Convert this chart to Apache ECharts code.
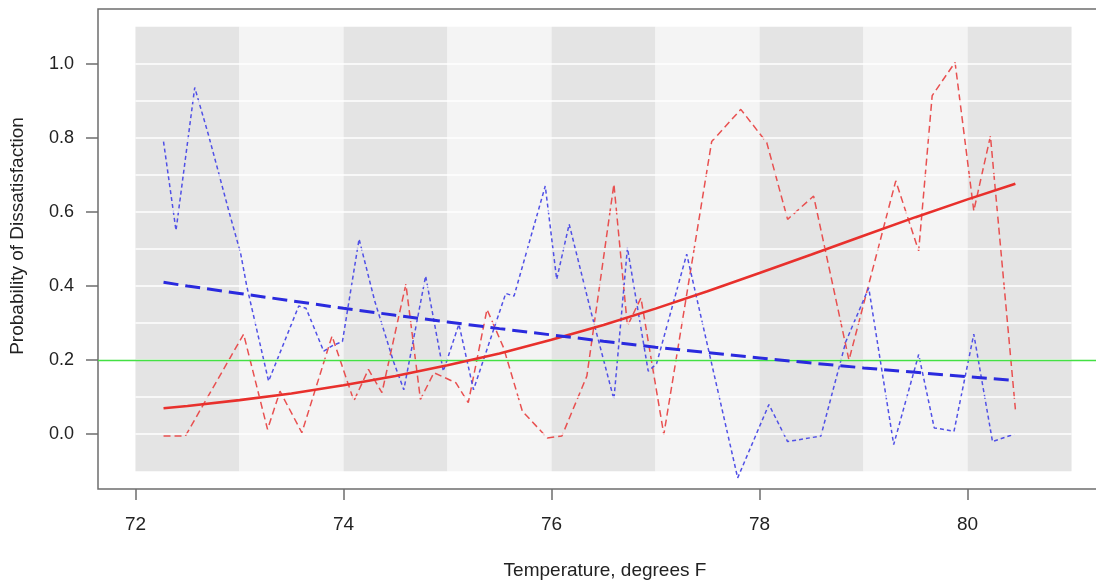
<!DOCTYPE html>
<html>
<head>
<meta charset="utf-8">
<script src="https://cdn.jsdelivr.net/npm/echarts@6/dist/echarts.min.js"></script>
<style>
html,body{margin:0;padding:0;background:#ffffff;overflow:hidden;width:1096px;height:582px;}
#chart{width:1130px;height:582px;}
</style>
</head>
<body>
<div id="chart"></div>
<script>
// ---- data ----
const xTicks = [72, 74, 76, 78, 80];
const yTicks = [0.0, 0.2, 0.4, 0.6, 0.8, 1.0];
const bandEdges = [72, 73, 74, 75, 76, 77, 78, 79, 80, 81];
const bandYRange = [-0.1, 1.1];
const whiteLineValues = [0.0, 0.1, 0.2, 0.3, 0.4, 0.5, 0.6, 0.7, 0.8, 0.9, 1.0];
const refLevel = 0.2;

// observed (red dashed)
const redObsX = [72.27, 72.48, 73.04, 73.27, 73.39, 73.60, 73.89, 74.10, 74.24, 74.37, 74.60, 74.74, 74.87, 75.08, 75.20, 75.38, 75.54, 75.72, 75.96, 76.10, 76.34, 76.60, 76.73, 76.86, 77.08, 77.54, 77.82, 78.07, 78.27, 78.52, 78.86, 79.31, 79.53, 79.66, 79.88, 80.06, 80.22, 80.46];
const redObsY = [-0.005, -0.005, 0.27, 0.013, 0.116, 0.004, 0.265, 0.09, 0.175, 0.112, 0.405, 0.094, 0.166, 0.139, 0.085, 0.337, 0.233, 0.062, -0.01, -0.005, 0.157, 0.675, 0.292, 0.368, -0.001, 0.79, 0.877, 0.787, 0.58, 0.643, 0.2, 0.684, 0.495, 0.914, 1.004, 0.603, 0.805, 0.067];

// observed (blue dotted)
const blueObsX = [72.27, 72.39, 72.57, 72.70, 72.91, 73.01, 73.07, 73.28, 73.57, 73.64, 73.81, 73.90, 73.99, 74.15, 74.30, 74.48, 74.58, 74.79, 74.96, 75.11, 75.25, 75.56, 75.64, 75.94, 76.05, 76.17, 76.38, 76.60, 76.73, 76.93, 77.01, 77.30, 77.79, 78.09, 78.27, 78.59, 78.83, 79.05, 79.29, 79.53, 79.68, 79.87, 80.06, 80.24, 80.45];
const blueObsY = [0.79, 0.55, 0.936, 0.81, 0.59, 0.49, 0.40, 0.143, 0.346, 0.34, 0.224, 0.24, 0.25, 0.527, 0.36, 0.197, 0.12, 0.427, 0.17, 0.297, 0.12, 0.38, 0.373, 0.67, 0.418, 0.567, 0.33, 0.094, 0.503, 0.17, 0.19, 0.486, -0.118, 0.08, -0.02, -0.005, 0.25, 0.395, -0.028, 0.215, 0.017, 0.008, 0.27, -0.02, 0.0];

// fitted curves (read at half-degree steps)
const fitX = [72.27, 72.5, 73, 73.5, 74, 74.5, 75, 75.5, 76, 76.5, 77, 77.5, 78, 78.5, 79, 79.5, 80, 80.46];
const redFitY = [0.070, 0.076, 0.092, 0.110, 0.132, 0.157, 0.186, 0.218, 0.255, 0.295, 0.339, 0.386, 0.435, 0.485, 0.536, 0.586, 0.634, 0.676];
const blueFitY = [0.410, 0.400, 0.380, 0.360, 0.340, 0.321, 0.303, 0.285, 0.268, 0.251, 0.235, 0.220, 0.206, 0.192, 0.179, 0.167, 0.155, 0.145];

const xTitle = 'Temperature, degrees F';
const yTitle = 'Probability of Dissatisfaction';

// ---- build option ----
const pairs = (xs, ys) => xs.map((x, i) => [x, ys[i]]);
const FONT = '"Liberation Sans", Arial, Helvetica, sans-serif';

const bandAreas = [];
for (let i = 0; i < bandEdges.length - 1; i++) {
  bandAreas.push([
    { xAxis: bandEdges[i], yAxis: bandYRange[0], itemStyle: { color: i % 2 === 0 ? '#e4e4e4' : '#f4f4f4' } },
    { xAxis: bandEdges[i + 1], yAxis: bandYRange[1] }
  ]);
}
const whiteLines = whiteLineValues.map(v => [
  { coord: [bandEdges[0], v] },
  { coord: [bandEdges[bandEdges.length - 1], v] }
]);

const chart = echarts.init(document.getElementById('chart'), null, { renderer: 'canvas' });
chart.setOption({
  animation: false,
  backgroundColor: '#ffffff',
  grid: {
    left: 98, top: 9, width: 1011, height: 480,
    show: true, borderColor: '#6e6e6e', borderWidth: 1.5, backgroundColor: 'transparent'
  },
  xAxis: {
    type: 'value', min: 71.64, max: 81.36,
    axisLine: { show: false, onZero: false },
    splitLine: { show: false },
    axisTick: { show: true, customValues: xTicks, length: 11, lineStyle: { color: '#6e6e6e', width: 1.5 } },
    axisLabel: { customValues: xTicks, margin: 26, color: '#222', fontSize: 19, fontFamily: FONT, formatter: v => String(v) }
  },
  yAxis: {
    type: 'value', min: -0.148, max: 1.148,
    axisLine: { show: false, onZero: false },
    splitLine: { show: false },
    axisTick: { show: true, customValues: yTicks, length: 12, lineStyle: { color: '#6e6e6e', width: 1.5 } },
    axisLabel: { customValues: yTicks, margin: 24, color: '#222', fontSize: 18, fontFamily: FONT, formatter: v => v.toFixed(1) }
  },
  graphic: [
    { type: 'text', x: 605, y: 571, style: { text: xTitle, font: '19px ' + FONT, fill: '#222', align: 'center', verticalAlign: 'middle' } },
    { type: 'text', x: 18, y: 236, rotation: Math.PI / 2, style: { text: yTitle, font: '19px ' + FONT, fill: '#222', align: 'center', verticalAlign: 'middle' } }
  ],
  series: [
    {
      type: 'line', data: [], silent: true, z: 1,
      markArea: { silent: true, data: bandAreas }
    },
    {
      type: 'line', data: [], silent: true, z: 2,
      markLine: { silent: true, symbol: ['none', 'none'], label: { show: false },
        lineStyle: { color: '#ffffff', width: 1.6, type: 'solid' }, data: whiteLines }
    },
    {
      type: 'line', data: [], silent: true, z: 3,
      markLine: { silent: true, symbol: ['none', 'none'], label: { show: false },
        lineStyle: { color: '#44e044', width: 1.3, type: 'solid' }, data: [{ yAxis: refLevel }] }
    },
    {
      name: 'red observed', type: 'line', z: 4, showSymbol: false, data: pairs(redObsX, redObsY),
      lineStyle: { color: '#e85050', width: 1.5, type: [7, 4] }
    },
    {
      name: 'blue observed', type: 'line', z: 4, showSymbol: false, data: pairs(blueObsX, blueObsY),
      lineStyle: { color: '#5050e6', width: 1.5, type: [4, 3] }
    },
    {
      name: 'red fit', type: 'line', z: 5, showSymbol: false, data: pairs(fitX, redFitY),
      lineStyle: { color: '#e8302c', width: 2.6, type: 'solid' }
    },
    {
      name: 'blue fit', type: 'line', z: 5, showSymbol: false, data: pairs(fitX, blueFitY),
      lineStyle: { color: '#2a2ade', width: 3, type: [15, 7] }
    }
  ]
});
</script>
</body>
</html>
